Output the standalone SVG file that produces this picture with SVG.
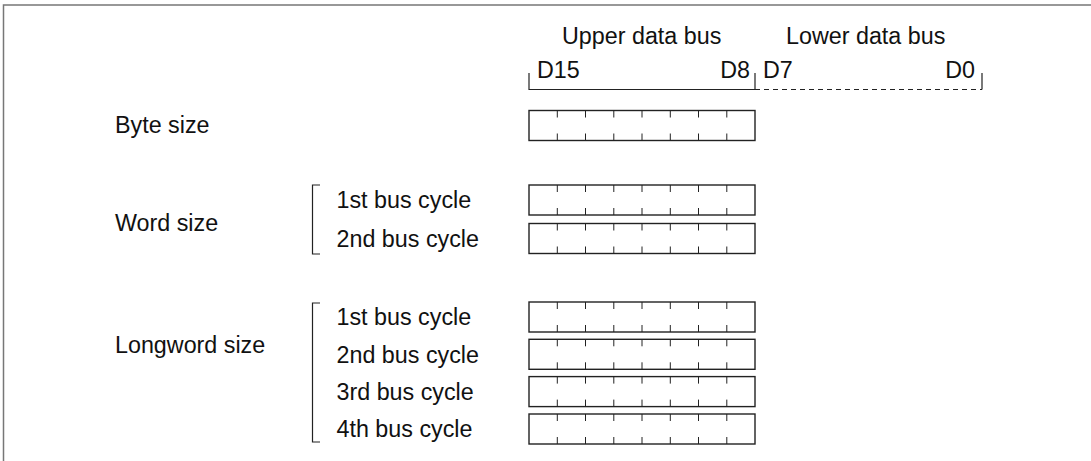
<svg xmlns="http://www.w3.org/2000/svg" width="1091" height="461" viewBox="0 0 1091 461">
<style>
text{font-family:"Liberation Sans",Arial,sans-serif;font-size:23.3px;fill:#111}
.frame{stroke:#777;stroke-width:1.5;fill:none}
.ln{stroke:#222;stroke-width:1.2;fill:none}
.box{stroke:#222;stroke-width:1.4;fill:#fff}
.tick{stroke:#222;stroke-width:1}
</style>
<defs>
<g id="reg">
<rect class="box" x="0" y="0" width="226" height="30"/>
<path class="tick" d="M28.3 0v7M56.5 0v7M84.8 0v7M113 0v7M141.3 0v7M169.5 0v7M197.8 0v7M28.3 23v7M56.5 23v7M84.8 23v7M113 23v7M141.3 23v7M169.5 23v7M197.8 23v7"/>
</g>
</defs>
<rect width="1091" height="461" fill="#fff"/>
<path class="frame" d="M3.5 461V5H1091"/>
<g id="header">
<text x="562" y="44">Upper data bus</text>
<text x="786" y="44">Lower data bus</text>
<text x="537" y="78">D15</text>
<text x="750" y="78" text-anchor="end">D8</text>
<text x="763" y="78">D7</text>
<text x="975" y="78" text-anchor="end">D0</text>
</g>
<g id="connectors">
<path class="ln" d="M529 73V89.5H755M755 73V89.5M982 73V89.5"/>
<path class="ln" d="M755 89.5H982" stroke-dasharray="5 4"/>
<path class="ln" d="M320 185H312.5V254H320"/>
<path class="ln" d="M320 303H312.5V442H320"/>
</g>
<g id="byte">
<text x="115" y="133">Byte size</text>
<use href="#reg" x="529" y="110.5"/>
</g>
<g id="word">
<text x="115" y="230.5">Word size</text>
<text x="336.5" y="208.3">1st bus cycle</text>
<text x="336.5" y="246.7">2nd bus cycle</text>
<use href="#reg" x="529" y="185"/>
<use href="#reg" x="529" y="223.5"/>
</g>
<g id="longword">
<text x="115" y="353.3">Longword size</text>
<text x="336.5" y="325">1st bus cycle</text>
<text x="336.5" y="362.5">2nd bus cycle</text>
<text x="336.5" y="400">3rd bus cycle</text>
<text x="336.5" y="437">4th bus cycle</text>
<use href="#reg" x="529" y="302"/>
<use href="#reg" x="529" y="339.3"/>
<use href="#reg" x="529" y="376.6"/>
<use href="#reg" x="529" y="414"/>
</g>
</svg>
